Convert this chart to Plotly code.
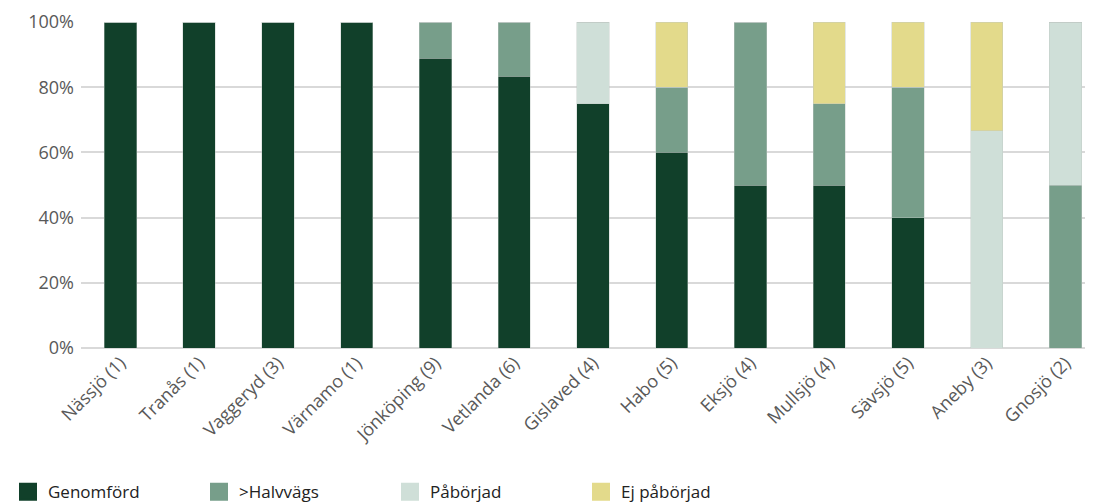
import plotly.graph_objects as go

categories = ["Nässjö (1)", "Tranås (1)", "Vaggeryd (3)", "Värnamo (1)", "Jönköping (9)",
              "Vetlanda (6)", "Gislaved (4)", "Habo (5)", "Eksjö (4)", "Mullsjö (4)",
              "Sävsjö (5)", "Aneby (3)", "Gnosjö (2)"]
genomford = [1.0, 1.0, 1.0, 1.0, 0.889, 0.833, 0.75, 0.6, 0.5, 0.5, 0.4, 0.0, 0.0]
halvvags = [0.0, 0.0, 0.0, 0.0, 0.111, 0.167, 0.0, 0.2, 0.5, 0.25, 0.4, 0.0, 0.5]
paborjad = [0.0, 0.0, 0.0, 0.0, 0.0, 0.0, 0.25, 0.0, 0.0, 0.0, 0.0, 0.667, 0.5]
ej_paborjad = [0.0, 0.0, 0.0, 0.0, 0.0, 0.0, 0.0, 0.2, 0.0, 0.25, 0.2, 0.333, 0.0]

series = [
    ("Genomförd", genomford, "#11402A"),
    (">Halvvägs", halvvags, "#779E8A"),
    ("Påbörjad", paborjad, "#CFDFD8"),
    ("Ej påbörjad", ej_paborjad, "#E3DA8B"),
]

font_family = "Open Sans, sans-serif"

fig = go.Figure()
for name, vals, color in series:
    fig.add_trace(go.Bar(
        x=categories, y=vals, name=name, showlegend=False,
        marker=dict(color=color, line=dict(color="rgba(190,200,195,0.7)", width=0.6)),
        width=0.41,
    ))
# legend entries with larger square swatches
for name, vals, color in series:
    fig.add_trace(go.Scatter(
        x=[None], y=[None], mode="markers", name=name,
        marker=dict(symbol="square", size=16, color=color, line=dict(color=color, width=2)),
    ))

# the page body has an 8px margin, so the figure is shifted by 8px
fig.update_layout(
    barmode="stack",
    width=1085, height=495,
    margin=dict(l=73, r=0, t=14, b=155, autoexpand=False),
    plot_bgcolor="white", paper_bgcolor="white",
    font=dict(family=font_family, color="#595959", size=17),
    showlegend=True,
    legend=dict(
        orientation="h", xref="container", x=-0.0092, xanchor="left",
        yref="container", y=0.022, yanchor="middle",
        font=dict(family=font_family, size=17, color="#222222"),
        entrywidth=146, entrywidthmode="pixels",
        traceorder="normal", itemsizing="trace",
    ),
    bargap=0.5,
)
fig.update_xaxes(
    type="category", range=[-0.5, 12.35], automargin=False,
    tickangle=-45, tickfont=dict(size=18, color="#595959"),
    showgrid=False, showline=False, ticks="",
)
fig.update_yaxes(
    range=[0, 1], tickvals=[0, 0.2, 0.4, 0.6, 0.8, 1.0], tickformat=".0%",
    automargin=False,
    showgrid=True, gridcolor="#D9D9D9", gridwidth=1.5,
    zeroline=True, zerolinecolor="#D9D9D9", zerolinewidth=1.5,
    tickfont=dict(size=18, color="#595959"), ticklabelstandoff=6,
)

fig.write_html("out.html")
